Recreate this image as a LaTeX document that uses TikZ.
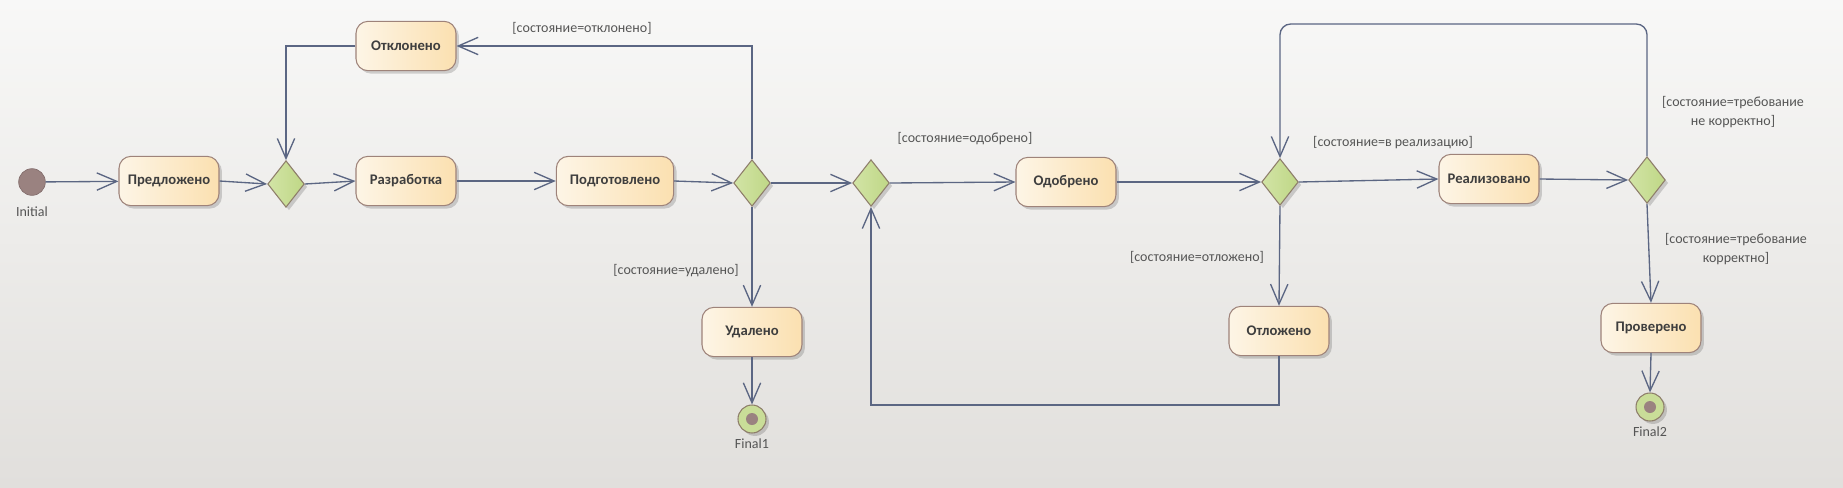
\documentclass[tikz,border=0pt]{standalone}
\usepackage{fontspec}
\setmainfont{Carlito}
\usetikzlibrary{arrows.meta,shapes.geometric,shadows}
\definecolor{bgtop}{HTML}{F8F8F7}
\definecolor{bgbot}{HTML}{E1DFDC}
\definecolor{boxL}{HTML}{FDF5E6}
\definecolor{boxR}{HTML}{FBE0B0}
\definecolor{boxBorder}{HTML}{9E837A}
\definecolor{dmL}{HTML}{D2E4A6}
\definecolor{dmR}{HTML}{BFD786}
\definecolor{dmBorder}{HTML}{8E7E6A}
\definecolor{lineC}{HTML}{5B6683}
\definecolor{initC}{HTML}{9A8280}
\definecolor{txtC}{HTML}{3E3E3E}
\definecolor{lblC}{HTML}{555555}
\begin{document}
\begin{tikzpicture}[x=0.75pt,y=-0.75pt,
  shad/.style={drop shadow={shadow xshift=2.2pt,shadow yshift=-2.2pt,fill=black,opacity=0.16}},
  state/.style={rectangle, rounded corners=9pt, draw=boxBorder, line width=0.8pt,
    left color=boxL, right color=boxR, minimum width=75pt, minimum height=37pt,
    inner sep=0pt, font=\bfseries\fontsize{11}{13}\selectfont, text=txtC, shad},
  decis/.style={diamond, draw=dmBorder, left color=dmL, right color=dmR, line width=0.8pt,
    minimum width=27.5pt, minimum height=35pt, inner sep=0pt, shad},
  initnode/.style={circle, fill=initC, draw=initC!85!black, line width=0.5pt, minimum size=20pt, inner sep=0pt},
  finnode/.style={circle, draw=dmBorder, fill=dmR!85!white, line width=0.8pt, minimum size=21pt, inner sep=0pt, shad},
  findot/.style={circle, fill=initC, minimum size=9pt, inner sep=0pt},
  lbl/.style={font=\fontsize{10.5}{14}\selectfont, text=lblC, align=center, inner sep=0pt},
  conn/.style={draw=lineC, line width=1pt, -{Straight Barb[length=15pt,width=13pt]}},
  plain/.style={draw=lineC, line width=1pt}
]
\shade[top color=bgtop, bottom color=bgbot] (0,0) rectangle (1843,487);
\useasboundingbox (0,0) rectangle (1843,487);

% nodes
\node[initnode] (init) at (32,182) {};
\node[lbl, anchor=center] (initlbl) at (32,212) {Initial};
\node[state] (pred) at (169,181) {Предложено};
\node[decis] (d1) at (286,184) {};
\node[state] (razr) at (406,181) {Разработка};
\node[state, minimum width=88pt] (podg) at (615,181) {Подготовлено};
\node[decis] (d2) at (752,183) {};
\node[state] (otkl) at (406,46) {Отклонено};
\node[state] (udal) at (752,332) {Удалено};
\node[finnode] (fin1) at (752,419) {};
\node[findot] (fin1dot) at (fin1) {};
\node[lbl] (fin1lbl) at (752,444) {Final1};
\node[decis] (d3) at (871,183) {};
\node[state] (odob) at (1066,182) {Одобрено};
\node[decis] (d4) at (1280,182) {};
\node[state] (real) at (1489,179) {Реализовано};
\node[decis] (d5) at (1647,180) {};
\node[state] (otloz) at (1279,331) {Отложено};
\node[state] (prov) at (1651,328) {Проверено};
\node[finnode] (fin2) at (1650,407) {};
\node[findot] (fin2dot) at (fin2) {};
\node[lbl] (fin2lbl) at (1650,432) {Final2};

% guard labels
\node[lbl] (g1) at (582,28) {[состояние=отклонено]};
\node[lbl] (g2) at (676,271) {[состояние=удалено]};
\node[lbl] (g3) at (965,139) {[состояние=одобрено]};
\node[lbl] (g4) at (1393,143) {[состояние=в реализацию]};
\node[lbl] (g5) at (1733,112) {[состояние=требование\\не корректно]};
\node[lbl] (g6) at (1197,257) {[состояние=отложено]};
\node[lbl] (g7) at (1736,249) {[состояние=требование\\корректно]};

% helper coordinates
\coordinate (looptop) at (1460,24);
\coordinate (loopbot) at (1000,405);

% connectors
\draw[conn] (init) -- (pred);
\draw[conn] (pred.east) -- (d1.west);
\draw[conn] (d1.east) -- (razr.west);
\draw[conn] (razr) -- (podg);
\draw[conn] (podg.east) -- (d2.west);
\draw[conn] (d2.north) |- (otkl.east);
\draw[conn] (otkl.west) -| (d1.north);
\draw[conn] (d2.south) -- (udal.north);
\draw[conn] (udal.south) -- (fin1.north);
\draw[conn] (d2.east) -- (d3.west);
\draw[conn] (d3.east) -- (odob.west);
\draw[conn] (odob.east) -- (d4.west);
\draw[conn] (d4.east) -- (real.west);
\draw[conn] (real.east) -- (d5.west);
\draw[conn, rounded corners=8pt] (d5.north) |- (looptop) -| (d4.north);
\draw[conn] (d4.south) -- (otloz.north);
\draw[conn] (otloz.south) |- (loopbot) -| (d3.south);
\draw[conn] (d5.south) -- (prov.north);
\draw[conn] (prov.south) -- (fin2.north);
\end{tikzpicture}
\end{document}
